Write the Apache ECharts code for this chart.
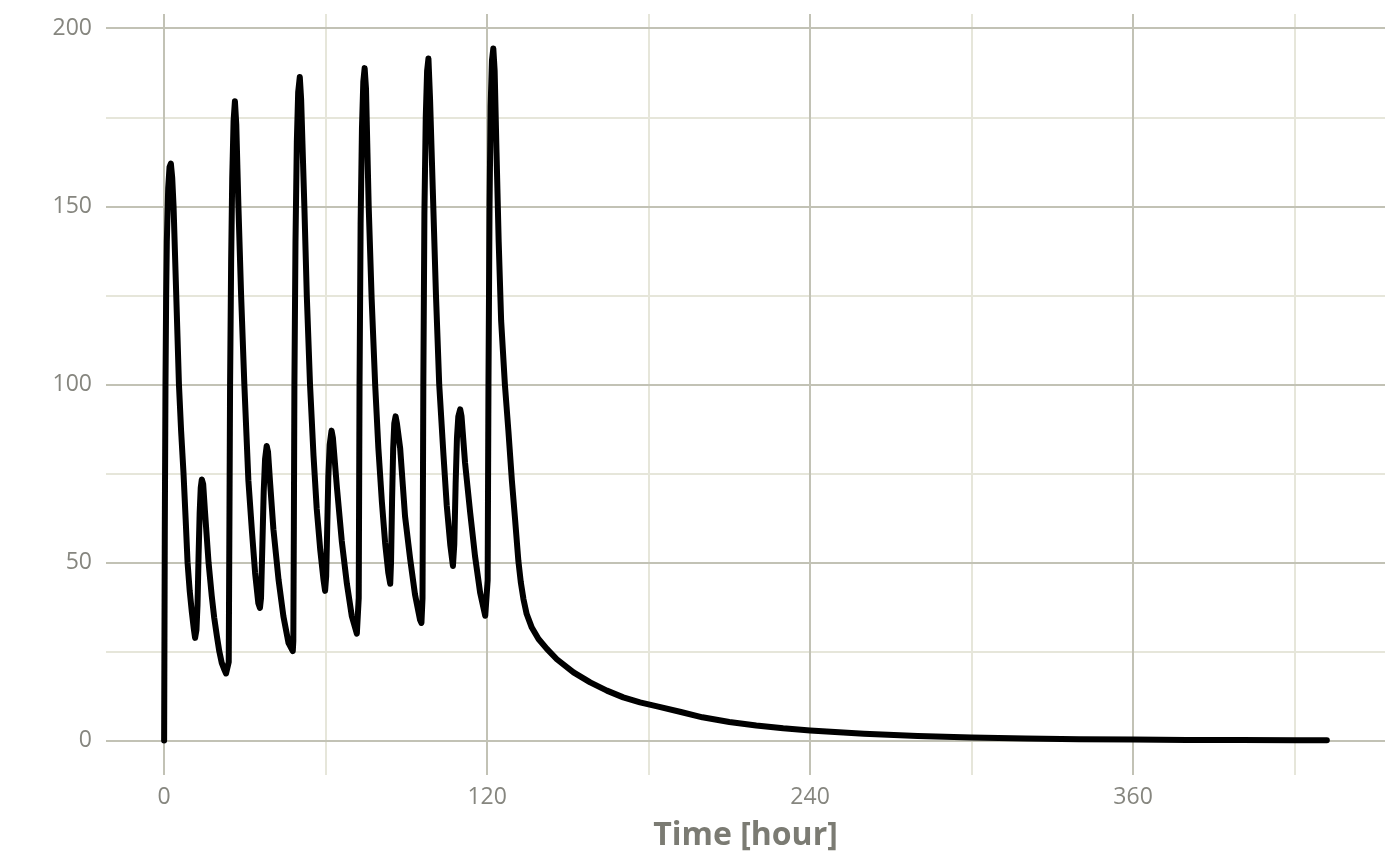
<!DOCTYPE html>
<html>
<head>
<meta charset="utf-8">
<title>Time [hour]</title>
<script src="https://cdn.jsdelivr.net/npm/echarts@6/dist/echarts.min.js"></script>
<style>
  html, body { margin: 0; padding: 0; background: #fff; }
  #chart { width: 1400px; height: 865px; }
</style>
</head>
<body>
<div id="chart"></div>
<script>
  'use strict';

  /* time [hour] and concentration */
  var timeHours = [
    0, 0.25, 0.5, 0.75, 1.0, 1.5, 2.0, 2.5, 3.0, 3.5, 4.5, 5.5, 6.3, 7.2, 8.0, 8.7, 9.5, 10.3, 11.0, 11.5,
    12.0, 12.4, 12.8, 13.2, 13.6, 14.0, 14.5, 15.2, 16.5, 17.7, 18.6, 19.6, 20.5, 21.4, 22.3, 23.0, 23.5,
    24.0, 24.25, 24.5, 24.9, 25.3, 25.8, 26.3, 26.8, 27.6, 28.6, 29.8, 31.3, 32.6, 33.8, 35.0, 35.6,
    36.0, 36.5, 37.0, 37.5, 38.1, 38.6, 39.4, 40.6, 42.5, 44.3, 46.2, 47.8,
    48.0, 48.2, 48.4, 48.8, 49.3, 49.8, 50.4, 50.9, 52.1, 53.0, 54.2, 55.5, 56.7, 58.0, 59.2, 59.8,
    60.2, 60.6, 61.0, 61.5, 62.2, 62.7, 64.2, 66.0, 67.9, 69.7, 71.6, 72.0,
    72.3, 72.6, 73.0, 73.5, 74.0, 74.5, 75.0, 76.0, 77.1, 78.4, 79.6, 80.9, 82.1, 83.3, 84.0,
    84.3, 84.7, 85.1, 85.5, 86.0, 86.5, 87.7, 89.5, 91.4, 93.2, 95.1, 95.6,
    96.0, 96.3, 96.7, 97.2, 97.7, 98.2, 98.8, 99.8, 101.0, 102.2, 103.8, 105.0, 106.3, 107.3,
    107.8, 108.3, 108.8, 109.3, 110.0, 110.5, 111.8, 113.7, 115.5, 117.4, 119.3, 119.9,
    120.2, 120.5, 120.9, 121.3, 121.8, 122.3, 122.8, 123.5, 124.3, 125.2, 126.6, 127.9, 129.2, 130.4,
    131.6, 132.5, 133.5, 134.7, 136.6, 139.1, 142.2, 145.9, 152.1, 158.3, 164.5, 170.6, 176.8, 183.6,
    192, 200, 210, 220, 230, 240, 260, 280, 300, 320, 340, 360, 380, 400, 420, 432
  ];
  var concentration = [
    0, 60, 100, 125, 140, 155, 161, 162, 158, 150, 125, 100, 87, 75, 62, 50, 42, 36, 31.5, 28.8,
    31, 38, 52, 64, 71, 73.3, 72, 64, 50, 40.5, 34.5, 29.3, 25, 21.8, 20, 18.8, 18.5,
    22, 60, 100, 135, 158, 174, 179.5, 173, 150, 125, 100, 73, 59, 47, 38.5, 37.2,
    40, 55, 70, 79, 82.7, 81, 72, 59.3, 45.2, 34.9, 27.4, 25.1,
    28, 60, 100, 140, 168, 182, 186.3, 180, 150, 125, 100, 80, 65, 53.5, 45.2, 42,
    46, 60, 74, 83, 87, 85, 71, 56, 44, 35, 30, 29.5,
    40, 100, 145, 172, 185, 188.8, 183, 150, 124, 100, 82, 67, 55.5, 47, 44,
    50, 68, 82, 89, 91, 89, 82, 63, 51, 41, 33.8, 33,
    40, 100, 148, 175, 188, 191.5, 180, 155, 125, 100, 80, 66, 55, 49,
    55, 72, 85, 91, 93, 91, 78, 64, 51.8, 41.5, 35, 34.5,
    45, 100, 150, 178, 191, 194.3, 188, 165, 140, 118, 100, 87, 73, 62,
    50.5, 44.5, 39.7, 35.5, 31.7, 28.5, 25.7, 22.8, 19.1, 16.3, 14, 12.1, 10.7, 9.5,
    8.0, 6.5, 5.2, 4.2, 3.4, 2.8, 1.9, 1.25, 0.82, 0.54, 0.36, 0.24, 0.16, 0.11, 0.07, 0.05
  ];

  var xMajorTicks = [0, 120, 240, 360];
  var xMinorTicks = [60, 180, 300, 420];
  var yMajorTicks = [0, 50, 100, 150, 200];
  var yMinorTicks = [25, 75, 125, 175];

  var majorColor = '#c2c2b5',
      minorColor = '#e6e6da',
      labelColor = '#86867f',
      font = 'Open Sans';

  var points = timeHours.map(function (t, i){
    return [t, concentration[i]];
  });

  /*grid lines as mark lines, so minor lines can sit between custom ticks*/
  var gridLines = function (values, key, color, width){
    return values.map(function (v){
      var item = {lineStyle: {color: color, width: width, type: 'solid'}};
      item[key] = v;
      return item;
    });
  };
  var lines = [].concat(
    gridLines(xMinorTicks, 'xAxis', minorColor, 2),
    gridLines(yMinorTicks, 'yAxis', minorColor, 2),
    gridLines(xMajorTicks, 'xAxis', majorColor, 2),
    gridLines(yMajorTicks, 'yAxis', majorColor, 2)
  );

  var myChart = echarts.init(document.getElementById('chart'));
  var option = {
    animation: false,
    backgroundColor: '#ffffff',
    grid: {
      left: 106,
      right: 15,
      top: 14,
      bottom: 90,
      containLabel: false,
      outerBoundsMode: 'none'
    },
    xAxis: {
      type: 'value',
      min: -21.6,
      max: 453.6,
      name: 'Time [hour]',
      nameLocation: 'middle',
      nameGap: 45,
      nameTextStyle: {
        fontFamily: font,
        fontSize: 32,
        fontWeight: 'bold',
        color: '#7b7b73'
      },
      axisLine: {show: false},
      axisTick: {
        show: true,
        length: 7,
        customValues: xMajorTicks,
        lineStyle: {color: '#8a8a84', width: 2}
      },
      axisLabel: {
        customValues: xMajorTicks,
        margin: 11,
        fontFamily: font,
        fontSize: 23,
        color: labelColor
      },
      splitLine: {show: false}
    },
    yAxis: {
      type: 'value',
      min: -9.7,
      max: 204,
      axisLine: {show: false},
      axisTick: {
        show: true,
        length: 7,
        customValues: yMajorTicks,
        lineStyle: {color: '#8a8a84', width: 2}
      },
      axisLabel: {
        customValues: yMajorTicks,
        margin: 14,
        fontFamily: font,
        fontSize: 23,
        color: labelColor
      },
      splitLine: {show: false}
    },
    series: [
      {
        type: 'line',
        data: [],
        silent: true,
        z: 1,
        markLine: {
          silent: true,
          z: 1,
          animation: false,
          symbol: ['none', 'none'],
          label: {show: false},
          emphasis: {disabled: true},
          data: lines
        }
      },
      {
        type: 'line',
        data: points,
        z: 5,
        showSymbol: false,
        smooth: false,
        lineStyle: {color: '#000000', width: 6, cap: 'round', join: 'round'}
      }
    ]
  };

  myChart.setOption(option);
</script>
</body>
</html>
